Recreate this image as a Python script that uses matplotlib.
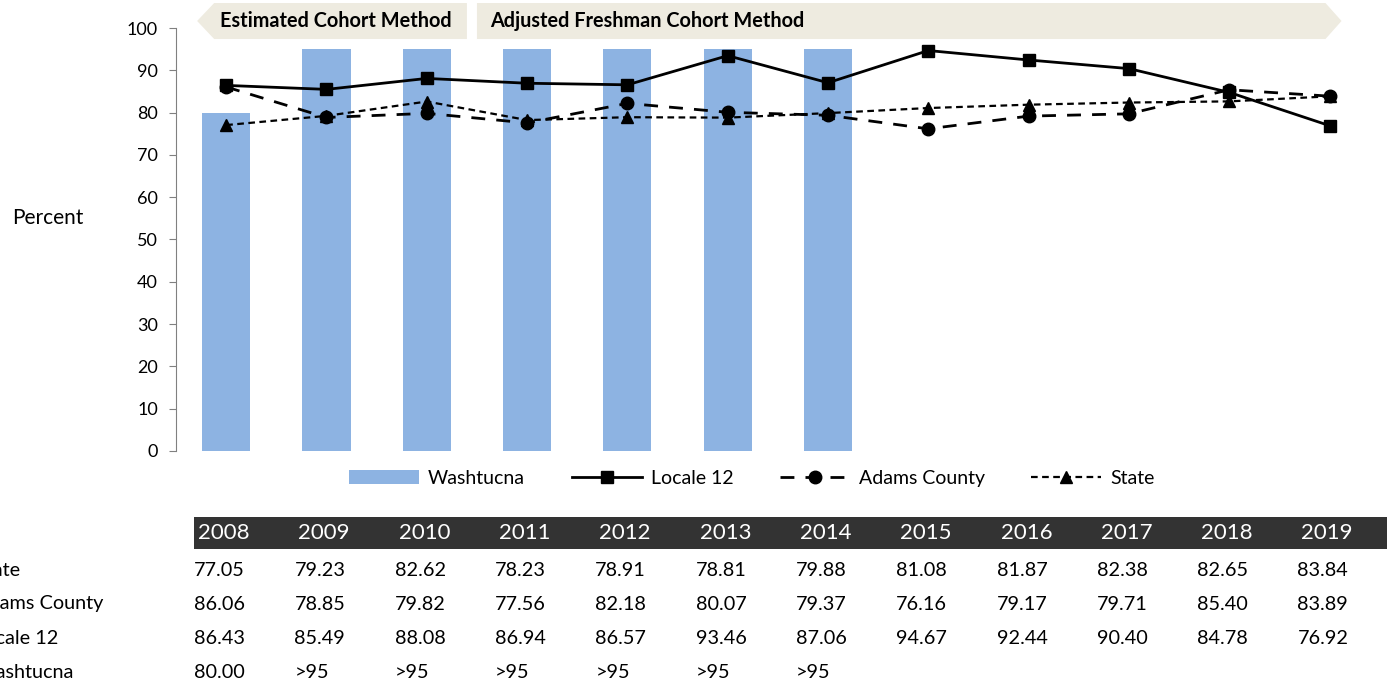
import matplotlib.pyplot as plt
from matplotlib.patches import Polygon
from matplotlib import transforms

plt.rcParams['font.family'] = ['Lato', 'DejaVu Sans']

years = ['2008', '2009', '2010', '2011', '2012', '2013', '2014',
         '2015', '2016', '2017', '2018', '2019']
washtucna = [80.00, 95, 95, 95, 95, 95, 95]
washtucna_labels = ['80.00', '>95', '>95', '>95', '>95', '>95', '>95']
locale12 = [86.43, 85.49, 88.08, 86.94, 86.57, 93.46, 87.06, 94.67, 92.44, 90.40, 84.78, 76.92]
adams = [86.06, 78.85, 79.82, 77.56, 82.18, 80.07, 79.37, 76.16, 79.17, 79.71, 85.40, 83.89]
state = [77.05, 79.23, 82.62, 78.23, 78.91, 78.81, 79.88, 81.08, 81.87, 82.38, 82.65, 83.84]

fig = plt.figure(figsize=(13.95, 6.88), dpi=100)
ax = fig.add_axes([0.1262, 0.3445, 0.8628, 0.6148])

x = list(range(len(years)))
ax.bar(x[:len(washtucna)], washtucna, width=0.48, color='#8DB3E2', label='Washtucna', zorder=1)
ax.plot(x, locale12, color='black', lw=2, marker='s', ms=9, label='Locale 12', zorder=3)
ax.plot(x, adams, color='black', lw=2, ls=(0, (5, 4)), marker='o', ms=9, label='Adams County', zorder=3)
ax.plot(x, state, color='black', lw=1.6, ls=(0, (3, 2)), marker='^', ms=9, label='State', zorder=3)

ax.set_xlim(-0.5, 11.5)
ax.set_ylim(0, 100)
ax.set_yticks(range(0, 101, 10))
ax.set_xticks([])
for s in ['top', 'right', 'bottom']:
    ax.spines[s].set_visible(False)
ax.spines['left'].set_color('#808080')
ax.tick_params(axis='y', direction='out', length=5, color='#808080', labelsize=13, pad=8)
fig.text(84 / 1395, 1 - 218 / 688, 'Percent', fontsize=15, ha='right', va='center')

handles, labels = ax.get_legend_handles_labels()
order = [3, 0, 1, 2]
fig.legend([handles[i] for i in order], [labels[i] for i in order],
           loc='center', bbox_to_anchor=(0.539, 0.305), ncol=4, frameon=False,
           fontsize=14, handlelength=3.6, columnspacing=2.4, handletextpad=0.45)

# method banners along the top, x in data units, y in figure units
bt = transforms.blended_transform_factory(ax.transData, fig.transFigure)
top, bot, mid = 0.9956, 0.9433, 0.9695
banner1 = Polygon([(-0.29, mid), (-0.12, top), (2.40, top), (2.40, bot), (-0.12, bot)],
                  closed=True, transform=bt, facecolor='#EEEBE0', edgecolor='none')
banner2 = Polygon([(2.50, top), (10.96, top), (11.12, mid), (10.96, bot), (2.50, bot)],
                  closed=True, transform=bt, facecolor='#EEEBE0', edgecolor='none')
fig.add_artist(banner1)
fig.add_artist(banner2)
fig.text(-0.06, mid, 'Estimated Cohort Method', transform=bt, fontsize=14.3,
         fontweight='bold', va='center', ha='left')
fig.text(2.63, mid, 'Adjusted Freshman Cohort Method', transform=bt, fontsize=14.3,
         fontweight='bold', va='center', ha='left')

# data table under the chart
header = plt.Rectangle((-0.32, 1 - 549 / 688), 11.89, 32 / 688, transform=bt,
                       facecolor='#333333', edgecolor='none')
fig.add_artist(header)
for i, yr in enumerate(years):
    fig.text(i - 0.28, 1 - 533 / 688, yr, transform=bt, color='white',
             fontsize=16, va='center', ha='left')

rows = [
    ('State', ['%.2f' % v for v in state]),
    ('Adams County', ['%.2f' % v for v in adams]),
    ('Locale 12', ['%.2f' % v for v in locale12]),
    ('Washtucna', washtucna_labels),
]
row_y = [571, 604, 638, 672]
name_end = [20, 103, 58, 74]
for (name, vals), py, nx in zip(rows, row_y, name_end):
    fig.text(nx / 1395, 1 - py / 688, name, fontsize=14.3, va='center', ha='right')
    for i, v in enumerate(vals):
        fig.text(i - 0.32, 1 - py / 688, v, transform=bt, fontsize=14.3,
                 va='center', ha='left')

fig.savefig('out.png', dpi=100)
